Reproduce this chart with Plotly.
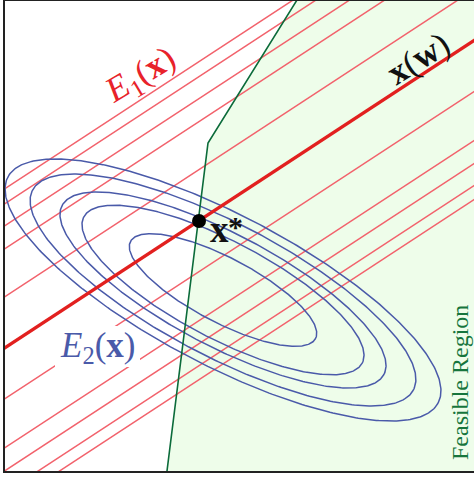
import numpy as np
import plotly.graph_objects as go

# ---- diagram values (in diagram units; y grows downward) ----
slope = 0.655                      # E1 contour lines: y = c - slope * x
thick_intercept = 351              # x(w) line (E1 minimum)
thin_offsets = [-159, -144, -122, -99, -51, 51, 100, 123, 145, 159]

ell_center_x = 223
ell_center_y = 290
ell_semi_major = 243
ell_semi_minor = 75
ell_tilt_deg = 27.7
ell_scales = [1.0, 0.885, 0.748, 0.647, 0.43]

feasible_x = [297, 208, 167]       # constraint boundary vertices
feasible_y = [0, 143, 471]

opt_x = [199]
opt_y = [221]

X_MIN, X_MAX, Y_TOP, Y_BOT = 5, 474, 1, 471

RED_THIN = "#f2626c"
RED_THICK = "#e2201f"
BLUE = "#4a5aa9"
GREEN = "#0b6b3a"
FILL = "#eefdea"
FONT = "Liberation Serif"

fig = go.Figure()

# feasible region fill
fx = feasible_x + [X_MAX + 20, X_MAX + 20]
fy = feasible_y + [feasible_y[-1], feasible_y[0]]
fig.add_trace(go.Scatter(x=fx, y=fy, fill="toself", fillcolor=FILL, mode="none",
                         hoverinfo="skip"))

# thin E1 contour lines
xs = np.array([0, X_MAX + 20])
for off in thin_offsets:
    c = thick_intercept + off
    fig.add_trace(go.Scatter(x=xs, y=c - slope * xs, mode="lines",
                             line=dict(color=RED_THIN, width=1.5), hoverinfo="skip"))

# white patch behind the E2 label
fig.add_trace(go.Scatter(x=[55, 140, 140, 55], y=[326, 326, 367, 367], fill="toself",
                         fillcolor="white", mode="none", hoverinfo="skip"))

# E2 elliptical contours
t = np.linspace(0, 2 * np.pi, 400)
th = np.deg2rad(ell_tilt_deg)
for s in ell_scales:
    a = ell_semi_major * s
    b = ell_semi_minor * s
    ex = ell_center_x + a * np.cos(t) * np.cos(th) - b * np.sin(t) * np.sin(th)
    ey = ell_center_y + a * np.cos(t) * np.sin(th) + b * np.sin(t) * np.cos(th)
    fig.add_trace(go.Scatter(x=ex, y=ey, mode="lines",
                             line=dict(color=BLUE, width=1.5), hoverinfo="skip"))

# thick x(w) line
fig.add_trace(go.Scatter(x=xs, y=thick_intercept - slope * xs, mode="lines",
                         line=dict(color=RED_THICK, width=3.2), hoverinfo="skip"))

# constraint boundary
fig.add_trace(go.Scatter(x=feasible_x, y=feasible_y, mode="lines",
                         line=dict(color=GREEN, width=1.6), hoverinfo="skip"))

# optimum point
fig.add_trace(go.Scatter(x=opt_x, y=opt_y, mode="markers",
                         marker=dict(color="black", size=14), hoverinfo="skip"))

ann = [
    dict(x=140, y=76, text="<i>E</i><sub>1</sub>(<b>x</b>)", textangle=-31,
         font=dict(family=FONT, size=35, color="#e8222a")),
    dict(x=97, y=347, text="<i>E</i><sub>2</sub>(<b>x</b>)", textangle=0,
         font=dict(family=FONT, size=35, color=BLUE)),
    dict(x=418, y=58, text="<b>x</b>(<b>w</b>)", textangle=-32,
         font=dict(family=FONT, size=35, color="#111111")),
    dict(x=219, y=229, text="<b>x</b>", textangle=0,
         font=dict(family=FONT, size=37, color="#111111")),
    dict(x=235, y=226, text="<b>*</b>", textangle=0,
         font=dict(family=FONT, size=30, color="#111111")),
    dict(x=460, y=383, text="Feasible Region", textangle=-90,
         font=dict(family=FONT, size=24, color="#16753c")),
]
for a_ in ann:
    fig.add_annotation(xref="x", yref="y", showarrow=False, **a_)

fig.update_layout(
    width=474, height=478,
    margin=dict(l=X_MIN, r=0, t=Y_TOP, b=478 - Y_BOT),
    paper_bgcolor="white", plot_bgcolor="white",
    showlegend=False,
    xaxis=dict(range=[X_MIN, X_MAX], showgrid=False, zeroline=False, showticklabels=False,
               ticks="", showline=True, mirror=True, linecolor="#222222", linewidth=1.5,
               fixedrange=True),
    yaxis=dict(range=[Y_BOT, Y_TOP], showgrid=False, zeroline=False, showticklabels=False,
               ticks="", showline=True, mirror=False, linecolor="#222222", linewidth=1.5,
               fixedrange=True),
)

fig.write_html("out.html", config={"displayModeBar": False},
               post_script="document.body.style.margin='0px';document.body.style.overflow='hidden';")
